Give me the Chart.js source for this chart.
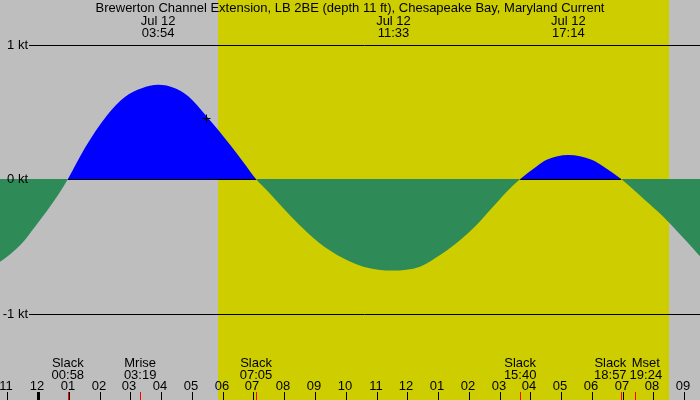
<!DOCTYPE html>
<html>
<head>
<meta charset="utf-8">
<script src="https://cdn.jsdelivr.net/npm/chart.js@4"></script>
<style>
  body { margin: 0; background: #bebebe; }
  canvas { display: block; }
</style>
</head>
<body>
<canvas id="tideChart" width="700" height="400"></canvas>
<script>
const title = 'Brewerton Channel Extension, LB 2BE (depth 11 ft), Chesapeake Bay, Maryland Current';

// current speed (kt), hours from midnight Jul 12
const hours = [-1.238, -1.02, -0.53, -0.1, 0.28, 0.66, 0.97, 1.52, 2.23, 2.82, 3.37, 3.9, 4.45, 4.88, 5.46, 6.29, 6.69, 7.08,
	7.48, 7.97, 8.46, 9.11, 9.92, 10.57, 11.54, 12.41, 12.9, 13.71, 14.25, 14.74, 15.23, 15.67,
	16.2, 16.53, 17.23, 17.99, 18.37, 18.95, 19.72, 20.32, 20.86, 21.3, 21.512];
const speeds = [-0.615, -0.58, -0.48, -0.355, -0.24, -0.115, 0, 0.23, 0.47, 0.61, 0.675, 0.70, 0.675, 0.615, 0.47, 0.24, 0.12, 0,
	-0.094, -0.218, -0.335, -0.47, -0.59, -0.652, -0.681, -0.652, -0.59, -0.455, -0.342, -0.218, -0.094, 0,
	0.094, 0.143, 0.178, 0.143, 0.094, 0, -0.156, -0.28, -0.41, -0.52, -0.575];

const peakTimes = ['03:54', '11:33', '17:14'];
const peakDate = 'Jul 12';

const eventNames = ['Slack', 'Mrise', 'Slack', 'Slack', 'Slack', 'Mset'];
const eventTimes = ['00:58', '03:19', '07:05', '15:40', '18:57', '19:24'];

const hourLabels = ['11', '12', '01', '02', '03', '04', '05', '06', '07', '08', '09', '10', '11', '12', '01', '02', '03', '04', '05', '06', '07', '08', '09'];
const firstHour = -1;

const yTicks = [1, 0, -1];
const yTickLabels = ['1 kt', '0 kt', '-1 kt'];

const sunrise = '05:51';
const sunset = '20:30';
const nowTime = '05:28';
const nowSpeed = 0.45;

const FONT = "13px 'Liberation Sans', Arial, sans-serif";

function toHours(t) {
	const p = t.split(':');
	return +p[0] + p[1] / 60;
}

const points = hours.map((h, i) => ({ x: h, y: speeds[i] }));

const decor = {
	id: 'decor',
	beforeDraw(chart) {
		const ctx = chart.ctx;
		const xs = chart.scales.x;
		ctx.save();
		ctx.fillStyle = '#bebebe';
		ctx.fillRect(0, 0, chart.width, chart.height);
		const x1 = Math.round(xs.getPixelForValue(toHours(sunrise)));
		const x2 = Math.round(xs.getPixelForValue(toHours(sunset)));
		ctx.fillStyle = '#cdcd00';
		ctx.fillRect(x1, 0, x2 - x1, chart.height);
		ctx.restore();
	},
	afterDatasetsDraw(chart) {
		const ctx = chart.ctx;
		const xs = chart.scales.x;
		const ys = chart.scales.y;
		ctx.save();
		ctx.font = FONT;
		ctx.fillStyle = '#000';
		ctx.strokeStyle = '#000';
		ctx.lineWidth = 1;

		// 1 / -1 kt lines and labels
		yTicks.forEach((v, i) => {
			const y = Math.round(ys.getPixelForValue(v));
			if (v !== 0) {
				ctx.beginPath();
				ctx.moveTo(29, y + 0.5);
				ctx.lineTo(chart.width, y + 0.5);
				ctx.stroke();
			}
			ctx.textAlign = 'right';
			ctx.textBaseline = 'middle';
			ctx.fillText(yTickLabels[i], 28, y + 0.5);
		});

		// zero line only under the flood (positive) parts
		const y0 = Math.round(ys.getPixelForValue(0)) + 0.5;
		const slacks = eventTimes.filter((t, i) => eventNames[i] === 'Slack').map(toHours);
		for (let i = 0; i + 1 < slacks.length; i += 2) {
			ctx.beginPath();
			ctx.moveTo(xs.getPixelForValue(slacks[i]), y0);
			ctx.lineTo(xs.getPixelForValue(slacks[i + 1]), y0);
			ctx.stroke();
		}

		// current time marker
		const mx = Math.round(xs.getPixelForValue(toHours(nowTime))) + 0.5;
		const my = Math.round(ys.getPixelForValue(nowSpeed)) + 0.5;
		ctx.beginPath();
		ctx.moveTo(mx - 4, my);
		ctx.lineTo(mx + 4, my);
		ctx.moveTo(mx, my - 4);
		ctx.lineTo(mx, my + 4);
		ctx.stroke();

		// title and peak labels
		ctx.textAlign = 'center';
		ctx.textBaseline = 'alphabetic';
		ctx.fillText(title, chart.width / 2, 12);
		peakTimes.forEach((t) => {
			const x = xs.getPixelForValue(toHours(t));
			ctx.fillText(peakDate, x, 24.5);
			ctx.fillText(t, x, 36.5);
		});

		// hour ticks
		hourLabels.forEach((lab, i) => {
			const h = firstHour + i;
			const x = Math.round(xs.getPixelForValue(h));
			ctx.fillText(lab, x - 1, 390);
			ctx.fillRect(h === 0 ? x - 1 : x, 392, h === 0 ? 3 : 1, 8);
		});

		// event ticks and labels, pushed apart when they overlap
		ctx.fillStyle = '#ff0000';
		const evX = eventTimes.map((t) => xs.getPixelForValue(toHours(t)));
		evX.forEach((x) => ctx.fillRect(Math.round(x), 392, 1, 8));
		const widths = eventNames.map((n, i) => Math.max(ctx.measureText(n).width, ctx.measureText(eventTimes[i]).width));
		const lx = evX.slice();
		for (let k = 0; k < 10; k++) {
			for (let i = 0; i + 1 < lx.length; i++) {
				const need = (widths[i] + widths[i + 1]) / 2 + 3;
				const gap = lx[i + 1] - lx[i];
				if (gap < need) {
					const d = (need - gap) / 2;
					lx[i] -= d;
					lx[i + 1] += d;
				}
			}
		}
		ctx.fillStyle = '#000';
		eventNames.forEach((n, i) => {
			ctx.fillText(n, lx[i], 367);
			ctx.fillText(eventTimes[i], lx[i], 378.5);
		});
		ctx.restore();
	},
};

new Chart(document.getElementById('tideChart'), {
	type: 'line',
	data: {
		datasets: [
			{
				label: 'Current',
				data: points,
				borderColor: 'transparent',
				borderWidth: 0,
				pointRadius: 0,
				cubicInterpolationMode: 'monotone',
				fill: { target: 'origin', above: '#0000ff', below: '#2e8b57' },
			},
		],
	},
	options: {
		responsive: false,
		animation: false,
		devicePixelRatio: 1,
		layout: { padding: 0 },
		plugins: { legend: { display: false }, tooltip: { enabled: false } },
		scales: {
			x: { type: 'linear', display: false, min: -1.238, max: 21.512 },
			y: { display: false, min: -1.643, max: 1.331 },
		},
	},
	plugins: [decor],
});
</script>
</body>
</html>
